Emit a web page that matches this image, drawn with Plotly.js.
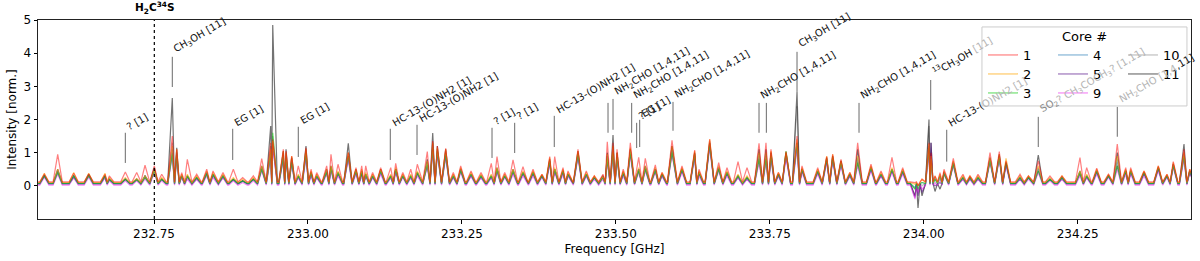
<!DOCTYPE html>
<html>
<head>
<meta charset="utf-8">
<script src="https://cdn.plot.ly/plotly-3.0.1.min.js"></script>
<style>html,body{margin:0;padding:0;background:#fff;}#chart{width:1200px;height:261px;}</style>
</head>
<body>
<div id="chart"></div>
<script>
// ---- data (GHz, normalised intensity) ----
const lineFreq = [232.5719,232.5936,232.6196,232.6440,232.6704,232.6774,232.7034,232.7219,232.7354,232.7505,
232.7625,232.7797,232.7869,232.7950,232.8041,232.8193,232.8356,232.8458,232.8620,232.8788,
232.8940,232.9113,232.9249,232.9395,232.9428,232.9600,232.9644,232.9736,232.9843,232.9968,
233.0050,233.0142,233.0304,233.0374,233.0488,233.0655,233.0780,233.0873,233.0938,233.1050,
233.1181,233.1344,233.1425,233.1540,233.1669,233.1776,233.1938,233.2026,233.2101,233.2237,
233.2360,233.2480,233.2648,233.2810,233.2977,233.3070,233.3195,233.3330,233.3492,233.3655,
233.3800,233.3926,233.4007,233.4142,233.4223,233.4385,233.4520,233.4650,233.4791,233.4861,
233.4954,233.5019,233.5120,233.5235,233.5371,233.5478,233.5641,233.5750,233.5912,233.6074,
233.6280,233.6350,233.6524,233.6670,233.6805,233.6984,233.7130,233.7325,233.7438,233.7519,
233.7640,233.7763,233.7942,233.8023,233.8278,233.8424,233.8521,233.8656,233.8800,233.8927,
233.9143,233.9306,233.9484,233.9658,233.9858,233.9907,233.9972,234.0085,234.0118,234.0183,
234.0264,234.0329,234.0480,234.0637,234.0750,234.0881,234.1076,234.1227,234.1336,234.1563,
234.1700,234.1860,234.2050,234.2245,234.2537,234.2646,234.2809,234.3000,234.3143,234.3280,
234.3360,234.3577,234.3809,234.3950,234.4052,234.4226,234.4320];

const core1 = [0.35,0.95,0.38,0.35,0.35,0.30,0.42,0.40,0.62,0.60,
0.35,1.50,1.10,0.40,0.80,0.35,0.50,0.45,0.40,0.50,
0.25,0.30,0.82,1.30,1.40,1.10,1.05,0.90,0.60,1.15,
0.50,0.40,0.60,0.95,0.65,1.00,0.55,0.60,0.60,0.40,
0.55,0.55,0.68,0.40,0.50,0.65,1.03,1.35,1.20,1.13,
0.40,0.60,0.45,0.40,0.68,0.88,0.40,0.78,0.58,0.50,
0.35,0.88,0.88,0.55,0.45,1.10,0.45,0.30,0.35,1.33,
1.30,1.10,0.50,1.30,0.86,0.83,0.63,0.40,1.37,0.60,
1.08,0.50,1.40,0.70,0.55,0.73,0.55,1.28,1.30,1.10,
0.40,1.03,1.50,0.60,0.55,0.88,0.95,0.80,0.40,1.30,
0.65,0.45,0.86,0.55,0.10,0.00,0.20,1.30,1.00,0.30,
0.40,0.50,0.83,0.35,0.30,0.35,1.00,1.03,0.75,0.35,
0.30,0.75,0.30,0.30,0.85,0.55,0.53,0.35,1.26,0.55,
0.55,0.45,0.60,0.35,0.73,1.10,0.50];

const core2 = [0.38,0.50,0.40,0.38,0.38,0.25,0.25,0.22,0.30,0.50,
0.25,1.20,1.10,0.35,0.35,0.30,0.45,0.40,0.35,0.25,
0.20,0.25,0.60,1.10,1.35,1.05,1.00,0.90,0.35,1.10,
0.45,0.35,0.50,0.60,0.45,1.00,0.50,0.50,0.40,0.35,
0.50,0.35,0.55,0.35,0.35,0.45,0.75,1.30,1.15,1.10,
0.35,0.55,0.40,0.35,0.35,0.55,0.35,0.50,0.45,0.45,
0.35,0.85,0.55,0.50,0.40,1.05,0.40,0.30,0.30,0.95,
1.20,1.00,0.45,1.15,0.55,0.60,0.55,0.40,1.20,0.55,
1.05,0.45,1.40,0.60,0.45,0.35,0.30,1.00,1.00,1.05,
0.40,1.00,1.40,0.55,0.50,0.90,0.95,0.75,0.40,0.90,
0.60,0.40,0.55,0.50,0.05,0.00,0.20,1.25,0.90,0.30,
0.35,0.45,0.75,0.30,0.30,0.30,0.85,0.95,0.83,0.30,
0.30,0.60,0.25,0.30,0.45,0.35,0.50,0.35,0.90,0.50,
0.50,0.45,0.60,0.35,0.70,1.00,0.50];

const core3 = [0.30,0.40,0.30,0.30,0.30,0.20,0.20,0.18,0.25,0.45,
0.20,0.95,0.90,0.30,0.30,0.25,0.35,0.35,0.30,0.20,
0.15,0.20,0.50,1.00,1.60,0.85,0.80,0.70,0.30,1.00,
0.40,0.30,0.40,0.55,0.40,0.90,0.45,0.40,0.35,0.30,
0.45,0.30,0.50,0.30,0.30,0.40,0.65,1.15,1.05,0.95,
0.30,0.45,0.35,0.30,0.30,0.50,0.30,0.45,0.40,0.40,
0.30,0.75,0.50,0.45,0.35,0.95,0.35,0.25,0.25,0.80,
1.00,0.85,0.40,1.00,0.45,0.50,0.45,0.35,1.00,0.50,
0.95,0.40,1.25,0.50,0.40,0.30,0.25,0.80,0.80,0.90,
0.35,1.05,1.30,0.50,0.45,0.80,0.85,0.70,0.35,0.70,
0.55,0.35,0.50,0.45,-0.10,-0.10,0.10,1.15,0.80,0.20,
0.30,0.35,0.65,0.25,0.25,0.25,0.75,0.85,0.70,0.25,
0.25,0.45,0.20,0.25,0.40,0.30,0.45,0.30,0.60,0.45,
0.45,0.40,0.55,0.30,0.60,0.90,0.45];

const core4 = [0.32,0.45,0.30,0.35,0.30,0.20,0.22,0.20,0.30,0.50,
0.20,1.10,1.00,0.30,0.30,0.25,0.40,0.35,0.30,0.20,
0.15,0.20,0.55,1.00,1.30,0.90,0.85,0.75,0.30,0.95,
0.40,0.30,0.45,0.55,0.40,0.90,0.45,0.40,0.35,0.30,
0.45,0.30,0.50,0.30,0.30,0.40,0.70,1.20,1.05,0.95,
0.30,0.50,0.35,0.30,0.30,0.50,0.30,0.45,0.40,0.40,
0.30,0.75,0.50,0.45,0.35,0.95,0.35,0.25,0.30,0.90,
1.10,0.90,0.40,1.05,0.50,0.55,0.50,0.35,1.10,0.50,
0.95,0.40,1.30,0.55,0.40,0.30,0.25,0.95,0.95,0.95,
0.35,0.95,1.30,0.50,0.45,0.80,0.85,0.70,0.35,0.85,
0.55,0.35,0.50,0.45,-0.05,0.00,0.10,1.20,0.85,0.25,
0.30,0.40,0.70,0.25,0.25,0.25,0.80,0.90,0.70,0.25,
0.25,0.55,0.20,0.25,0.40,0.30,0.45,0.30,0.80,0.45,
0.45,0.40,0.55,0.30,0.65,0.95,0.45];

const core5 = [0.30,0.40,0.25,0.30,0.25,0.18,0.20,0.18,0.25,0.45,
0.20,1.00,0.95,0.30,0.25,0.20,0.35,0.30,0.25,0.18,
0.15,0.20,0.50,0.90,1.20,0.80,0.75,0.70,0.25,0.90,
0.35,0.25,0.40,0.50,0.35,0.85,0.40,0.35,0.30,0.25,
0.40,0.25,0.45,0.30,0.25,0.35,0.60,1.10,1.00,0.90,
0.25,0.45,0.30,0.25,0.25,0.45,0.30,0.40,0.35,0.35,
0.30,0.70,0.45,0.40,0.30,0.90,0.30,0.25,0.25,0.80,
1.00,0.85,0.35,1.00,0.45,0.50,0.45,0.30,1.00,0.45,
0.90,0.35,1.20,0.50,0.35,0.25,0.20,0.80,0.80,0.85,
0.30,0.90,1.20,0.45,0.40,0.75,0.80,0.65,0.30,0.70,
0.50,0.30,0.45,0.40,-0.35,-0.30,-0.20,1.10,1.30,0.00,
0.10,0.40,0.65,0.20,0.20,0.20,0.75,0.85,0.65,0.20,
0.25,0.45,0.20,0.20,0.35,0.25,0.40,0.30,0.60,0.40,
0.40,0.35,0.50,0.30,0.60,0.85,0.40];

const core9 = [0.25,0.35,0.25,0.25,0.25,0.15,0.15,0.15,0.20,0.40,
0.15,0.90,0.85,0.25,0.20,0.20,0.30,0.25,0.25,0.15,
0.10,0.15,0.45,0.90,1.20,0.80,0.75,0.65,0.25,0.85,
0.30,0.25,0.35,0.45,0.30,0.80,0.35,0.30,0.30,0.25,
0.35,0.25,0.40,0.25,0.25,0.30,0.60,1.05,0.95,0.85,
0.25,0.40,0.30,0.25,0.25,0.40,0.25,0.35,0.30,0.30,
0.25,0.65,0.40,0.35,0.30,0.85,0.30,0.20,0.20,0.70,
0.90,0.80,0.30,0.90,0.40,0.45,0.40,0.30,0.95,0.40,
0.85,0.30,1.15,0.45,0.30,0.25,0.20,0.70,0.70,0.80,
0.30,0.85,1.10,0.40,0.35,0.70,0.75,0.60,0.30,0.60,
0.45,0.30,0.40,0.35,-0.40,-0.20,-0.10,1.00,0.80,0.10,
0.20,0.35,0.60,0.20,0.20,0.20,0.70,0.80,0.60,0.20,
0.20,0.40,0.15,0.20,0.30,0.25,0.35,0.25,0.50,0.35,
0.35,0.30,0.45,0.25,0.55,0.80,0.40];

const core10 = [0.33,0.45,0.30,0.35,0.30,0.20,0.20,0.20,0.30,0.50,
0.20,1.30,1.00,0.30,0.30,0.25,0.40,0.35,0.30,0.20,
0.15,0.20,0.55,1.20,1.50,1.00,1.00,0.85,0.30,1.10,
0.40,0.30,0.45,0.55,0.40,1.00,0.45,0.40,0.35,0.30,
0.45,0.30,0.50,0.30,0.30,0.40,0.70,1.30,1.10,1.05,
0.30,0.50,0.35,0.30,0.30,0.50,0.30,0.45,0.40,0.40,
0.30,0.80,0.50,0.45,0.35,1.00,0.35,0.25,0.30,0.90,
1.20,1.00,0.40,1.10,0.50,0.55,0.50,0.35,1.15,0.50,
1.00,0.40,1.35,0.55,0.40,0.30,0.25,0.90,0.90,1.00,
0.35,1.00,2.40,0.50,0.45,0.85,0.90,0.75,0.35,0.80,
0.55,0.35,0.50,0.45,-0.10,-0.20,0.00,1.80,1.00,0.20,
0.30,0.40,0.70,0.25,0.25,0.25,0.80,0.90,0.70,0.25,
0.25,0.50,0.20,0.25,0.40,0.30,0.45,0.30,0.70,0.45,
0.45,0.40,0.55,0.30,0.65,1.00,0.45];

const core11 = [0.30,0.50,0.30,0.35,0.30,0.20,0.20,0.20,0.30,0.55,
0.20,2.65,1.15,0.30,0.30,0.25,0.40,0.35,0.30,0.20,
0.15,0.20,0.60,1.80,4.85,1.05,1.10,0.85,0.30,1.20,
0.40,0.30,0.50,0.60,0.40,1.28,0.50,0.45,0.35,0.30,
0.50,0.30,0.50,0.30,0.30,0.40,0.80,1.59,1.20,1.10,
0.30,0.50,0.35,0.30,0.30,0.55,0.30,0.50,0.40,0.40,
0.30,0.80,0.50,0.45,0.35,1.05,0.35,0.25,0.30,1.00,
1.53,1.00,0.40,1.10,0.50,0.60,0.50,0.35,1.20,0.50,
1.00,0.40,1.30,0.55,0.40,0.30,0.25,1.10,1.10,1.00,
0.35,1.00,2.83,0.50,0.45,0.85,0.90,0.75,0.35,1.10,
0.55,0.35,0.50,0.45,-0.30,-0.67,-0.30,2.00,1.30,-0.17,
-0.10,0.40,0.70,0.25,0.25,0.25,0.85,0.95,0.70,0.25,
0.25,0.93,0.20,0.25,0.45,0.30,0.45,0.30,1.00,0.45,
0.45,0.40,0.55,0.30,0.65,1.26,0.45];

const coreNames = ['1','2','3','4','5','9','10','11'];
const coreBaseline = [0.12,0.10,0.07,0.07,0.05,0.02,0.08,0.07];

// line identifications (frequency, line bottom, line top, label)
const labelFreq = [232.7034,232.7797,232.8778,232.9843,233.1337,233.1771,233.2989,233.3357,233.4000,233.4873,
233.4954,233.5257,233.5338,233.5387,233.5928,233.7325,233.7444,233.7942,233.8949,234.0113,
234.0373,234.1860,234.3143];
const labelBottom = [0.69,2.98,0.78,0.87,0.78,0.93,0.84,0.99,1.17,1.60,
1.69,1.60,1.14,1.17,1.66,1.60,1.60,2.83,1.60,2.29,
0.73,1.17,1.48];
const labelTop = [1.60,3.89,1.72,1.78,1.72,1.84,1.75,1.90,2.11,2.50,
2.62,2.50,1.90,1.99,2.53,2.50,2.50,4.04,2.50,3.19,
1.69,2.08,2.38];
// each label: list of [text, tone] pieces; tone 'fade' = seen through the legend box
const labelText = [
 [['? [1]','ink']], [['CH<sub>3</sub>OH [11]','ink']], [['EG [1]','ink']], [['EG [1]','ink']],
 [['HC-13-(O)NH2 [1]','ink']], [['HC-13-(O)NH2 [1]','ink']], [['? [1]','ink']], [['? [1]','ink']],
 [['HC-13-(O)NH2 [1]','ink']], [],
 [['NH<sub>2</sub>CHO [1,4,11]','ink']], [['NH<sub>2</sub>CHO [1,4,11]','ink']], [['? [1]','ink']], [['EG [1]','ink']],
 [['NH<sub>2</sub>CHO [1,4,11]','ink']], [['NH<sub>2</sub>CHO [1,4,11]','ink']], [],
 [['CH<sub>3</sub>OH [11]','ink']], [['NH<sub>2</sub>CHO [1,4,11]','ink']],
 [['<sup>13</sup>CH<sub>3</sub>OH ','ink'], ['[11]','fade']],
 [['HC-13-(','ink'], ['O)NH2 [1]','fade']],
 [['SO<sub>2</sub>','half'], ['? CH<sub>3</sub>COCH<sub>3</sub>? [1,11]','fade']],
 [['NH<sub>2</sub>CHO [1,4','fade'], [',11]','ink']]
];

const markerFreq = 232.7505;
const markerText = '<b>H<sub>2</sub>C<sup>34</sup>S</b>';

const xRange = [232.5616, 234.434];
const yRange = [-1, 5];
const xTicks = [232.75, 233.00, 233.25, 233.50, 233.75, 234.00, 234.25];
const yTicks = [0, 1, 2, 3, 4, 5];

// ---- build ----
const coreData = [core1, core2, core3, core4, core5, core9, core10, core11];
const colors = ['rgba(255,0,0,0.5)','rgba(255,165,0,0.6)','rgba(20,205,20,0.6)','rgba(31,119,180,0.55)',
                'rgba(75,0,130,0.55)','rgba(235,40,235,0.55)','rgba(128,128,128,0.5)','rgba(0,0,0,0.55)'];
const drawOrder = [6, 7, 4, 5, 3, 2, 1, 0];
const toneColor = {ink:'#111', fade:'#b4b4b4', half:'#8a8a8a'};
const legCol = [0,0,0,1,1,1,2,2];
const legRow = [0,1,2,0,1,2,0,1];
const legColX = [0.8196, 0.8803, 0.9410];
const legRowY = [0.8241, 0.7286, 0.6332];
const HALF = 0.0075;
const LABEL_FONT = 10;

function profile(vals, base) {
  const xs = [xRange[0]], ys = [base];
  const n = lineFreq.length;
  for (let i = 0; i < n; i++) {
    const f = lineFreq[i];
    const lo = i > 0 ? Math.max(f - HALF, (lineFreq[i-1] + f) / 2) : f - HALF;
    const hi = i < n - 1 ? Math.min(f + HALF, (f + lineFreq[i+1]) / 2) : f + HALF;
    if (xs[xs.length-1] < lo - 1e-9) { xs.push(lo); ys.push(base); }
    xs.push(f); ys.push(vals[i]);
    xs.push(hi); ys.push(base);
  }
  xs.push(xRange[1]); ys.push(base);
  return {xs, ys};
}

const ctx = document.createElement('canvas').getContext('2d');
function pieceWidth(html) {
  let w = 0;
  const re = /<(sub|sup)>(.*?)<\/\1>|([^<]+)/g;
  let m;
  while ((m = re.exec(html)) !== null) {
    if (m[2] !== undefined) { ctx.font = (LABEL_FONT * 0.7) + 'px "DejaVu Sans"'; w += ctx.measureText(m[2]).width; }
    else { ctx.font = LABEL_FONT + 'px "DejaVu Sans"'; w += ctx.measureText(m[3]).width; }
  }
  return w;
}

const layoutLegends = {};
const traces = drawOrder.map(k => {
  const p = profile(coreData[k], coreBaseline[k]);
  const lname = k === 0 ? 'legend' : 'legend' + (k + 1);
  layoutLegends[lname] = {x:legColX[legCol[k]], y:legRowY[legRow[k]], xanchor:'left', yanchor:'middle',
    bgcolor:'rgba(0,0,0,0)', borderwidth:0, font:{family:'DejaVu Sans', size:13, color:'#000'}};
  return {type:'scatter', mode:'lines', x:p.xs, y:p.ys, name:coreNames[k],
          line:{color:colors[k], width:1.2}, legend:lname, hoverinfo:'skip'};
});

const shapes = labelFreq.map((f, i) => ({type:'line', xref:'x', yref:'y', x0:f, x1:f,
  y0:labelBottom[i], y1:labelTop[i], line:{color:'rgba(80,80,80,0.85)', width:1}}));
shapes.push({type:'line', xref:'x', yref:'paper', x0:markerFreq, x1:markerFreq, y0:0, y1:1,
  line:{color:'#000', width:1.2, dash:'dot'}});
shapes.push({type:'rect', xref:'paper', yref:'paper', x0:0.8187, x1:0.9965, y0:0.568, y1:0.965,
  fillcolor:'rgba(255,255,255,0.8)', line:{color:'#cccccc', width:1}, layer:'above'});

const annotations = [];
const ang = 30 * Math.PI / 180;
labelFreq.forEach((f, i) => {
  let adv = 0;
  labelText[i].forEach(([txt, tone], j) => {
    const hasScript = /<sub>/.test(txt);
    annotations.push({x:f, y:labelTop[i], xref:'x', yref:'y', text:txt, showarrow:false,
      textangle:-30, xanchor:'left', yanchor:'bottom',
      xshift:-3 + adv * Math.cos(ang), yshift:-2 + adv * Math.sin(ang) + (j > 0 && !hasScript && /<sub>/.test(labelText[i][0][0]) ? 2 : 0),
      font:{family:'DejaVu Sans', size:LABEL_FONT, color:toneColor[tone]}});
    adv += pieceWidth(txt);
  });
});
annotations.push({x:markerFreq, y:1, xref:'x', yref:'paper', text:markerText, showarrow:false,
  xanchor:'center', yanchor:'bottom', yshift:2, font:{family:'DejaVu Sans', size:10.5, color:'#000'}});
annotations.push({x:0.9076, y:0.915, xref:'paper', yref:'paper', text:'Core #', showarrow:false,
  xanchor:'center', yanchor:'middle', font:{family:'DejaVu Sans', size:13, color:'#000'}});

const layout = Object.assign({
  width:1200, height:261,
  margin:{l:38, r:9, t:20, b:42, pad:0},
  paper_bgcolor:'#fff', plot_bgcolor:'#fff',
  font:{family:'DejaVu Sans', size:12, color:'#000'},
  showlegend:true,
  xaxis:{range:xRange, tickvals:xTicks, tickformat:'.2f', ticks:'outside', ticklen:3.5, tickcolor:'#000',
         showgrid:false, zeroline:false, showline:true, mirror:true, linecolor:'#222', linewidth:1,
         title:{text:'Frequency [GHz]', font:{size:12}, standoff:4}, tickfont:{size:12}},
  yaxis:{range:yRange, tickvals:yTicks, ticks:'outside', ticklen:3.5, tickcolor:'#000',
         showgrid:false, zeroline:false, showline:true, mirror:true, linecolor:'#222', linewidth:1,
         title:{text:'Intensity [norm.]', font:{size:12}, standoff:4}, tickfont:{size:12}},
  shapes:shapes, annotations:annotations
}, layoutLegends);

Plotly.newPlot('chart', traces, layout, {displayModeBar:false, staticPlot:true});
</script>
</body>
</html>
